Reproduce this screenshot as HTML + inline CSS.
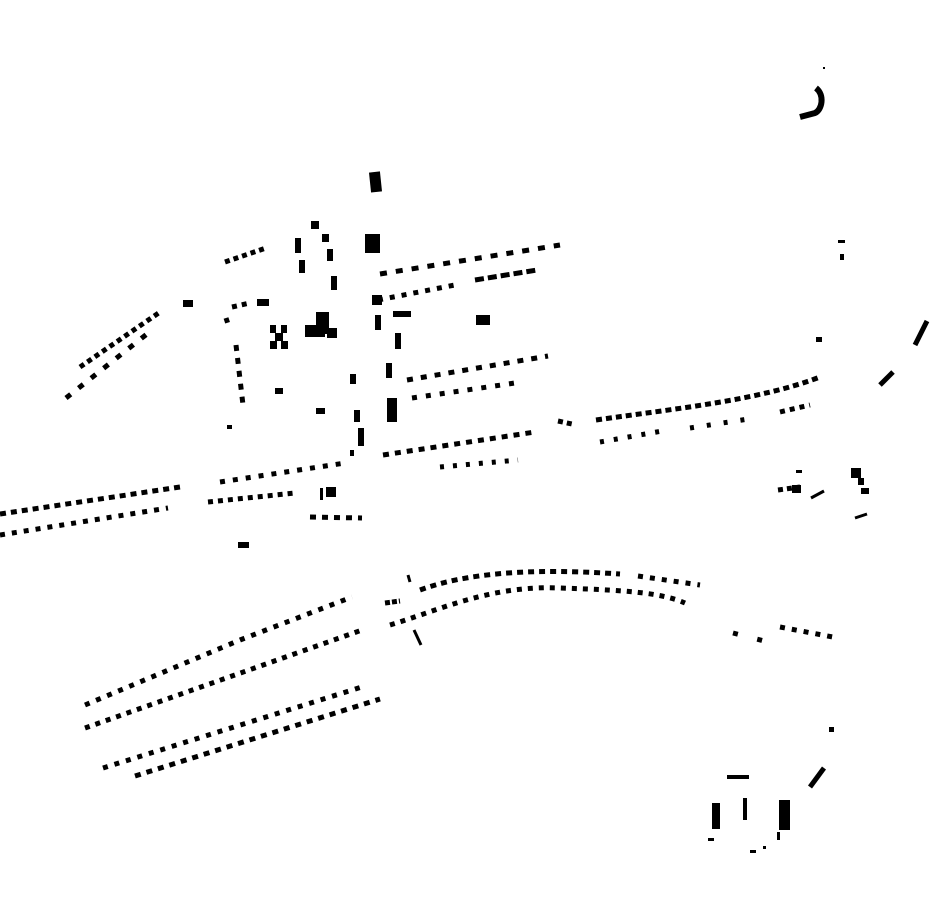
<!DOCTYPE html>
<html><head><meta charset="utf-8"><style>html,body{margin:0;padding:0;background:#fff;width:930px;height:924px;overflow:hidden}</style></head>
<body>
<svg width="930" height="924" viewBox="0 0 930 924" xmlns="http://www.w3.org/2000/svg">
<g fill="none" stroke="#000" stroke-width="5">
<g stroke-dasharray="5 4">
<path d="M225,262 L266,248"/>
<path d="M380,274 L560,245" stroke-dasharray="7 9"/>
<path d="M378,300 L460,284" stroke-dasharray="5 7"/>
<path d="M475,280 L537,270" stroke-dasharray="9 4"/>
<path d="M407,380 L548,356" stroke-dasharray="6 8"/>
<path d="M412,398 L515,383" stroke-dasharray="5 9"/>
<path d="M383,455 L535,432" stroke-dasharray="6 6"/>
<path d="M558,421 L572,424"/>
<path d="M596,420 C680,408 760,400 820,377" stroke-dasharray="6 4"/>
<path d="M440,467 L518,460" stroke-dasharray="4 9"/>
<path d="M600,442 L668,430" stroke-dasharray="4 10"/>
<path d="M690,428 L755,418" stroke-dasharray="4 13"/>
<path d="M780,412 L810,405" stroke-dasharray="5 5"/>
<path d="M80,367 L160,312" stroke-dasharray="5 4"/>
<path d="M66,398 L152,330" stroke-dasharray="6 10"/>
<path d="M232,307 L250,303" stroke-dasharray="5 5"/>
<path d="M226,318 L228,324" stroke-dasharray="5 5"/>
<path d="M236,345 L243,405" stroke-dasharray="6 7"/>
<path d="M0,514 L180,487" stroke-dasharray="6 5"/>
<path d="M0,535 L168,508" stroke-dasharray="5 7"/>
<path d="M220,482 L345,463" stroke-dasharray="5 8"/>
<path d="M208,502 L295,493" stroke-dasharray="5 5"/>
<path d="M310,517 L362,518" stroke-dasharray="6 6"/>
<path d="M85,705 L240,640 L352,597" stroke-dasharray="5 7"/>
<path d="M85,728 L362,630" stroke-dasharray="5 6"/>
<path d="M103,768 L365,686" stroke-dasharray="5 7"/>
<path d="M135,776 L380,699" stroke-dasharray="6 6"/>
<path d="M420,590 C480,568 560,570 620,574" stroke-dasharray="6 5"/>
<path d="M638,576 L700,585" stroke-dasharray="5 7"/>
<path d="M390,625 C440,610 490,585 560,588 C620,590 660,592 685,603" stroke-dasharray="5 6"/>
<path d="M385,603 L400,601" stroke-dasharray="5 2"/>
<path d="M733,633 L768,642" stroke-dasharray="5 20"/>
<path d="M780,627 L838,638" stroke-dasharray="5 7"/>
<path d="M778,490 L800,487" stroke-dasharray="5 4"/>
</g>
<path d="M414,630 L421,645" stroke-width="3"/>
<path d="M408,575 L410,582" stroke-width="3"/>
<path d="M915,345 L927,321" stroke-width="5"/>
<path d="M880,385 L893,372" stroke-width="5"/>
<path d="M810,787 L824,768" stroke-width="5"/>
<path d="M811,498 L824,491" stroke-width="3"/>
<path d="M855,518 L867,514" stroke-width="3"/>
<path d="M816,88 C825,95 822,110 815,113 L800,117" stroke-width="6"/>
</g>
<g fill="#000">
<rect x="370" y="172" width="11" height="20" transform="rotate(-6 375 182)"/>
<rect x="365" y="234" width="15" height="19"/>
<rect x="311" y="221" width="8" height="8"/>
<rect x="295" y="238" width="6" height="15"/>
<rect x="299" y="260" width="6" height="13"/>
<rect x="322" y="234" width="7" height="8"/>
<rect x="327" y="249" width="6" height="12"/>
<rect x="331" y="276" width="6" height="14"/>
<rect x="316" y="312" width="13" height="22"/>
<rect x="305" y="325" width="20" height="12"/>
<rect x="327" y="328" width="10" height="10"/>
<rect x="270" y="325" width="6" height="8"/><rect x="281" y="325" width="6" height="8"/>
<rect x="275" y="333" width="8" height="8"/>
<rect x="270" y="341" width="7" height="8"/><rect x="281" y="341" width="7" height="8"/>
<rect x="257" y="299" width="12" height="7"/>
<rect x="183" y="300" width="10" height="7"/>
<rect x="372" y="295" width="10" height="10"/>
<rect x="393" y="311" width="18" height="6"/>
<rect x="476" y="315" width="14" height="10"/>
<rect x="375" y="315" width="6" height="15"/>
<rect x="395" y="333" width="6" height="16"/>
<rect x="386" y="363" width="6" height="15"/>
<rect x="387" y="398" width="10" height="24"/>
<rect x="350" y="374" width="6" height="10"/>
<rect x="354" y="410" width="6" height="12"/>
<rect x="358" y="428" width="6" height="18"/>
<rect x="350" y="450" width="4" height="6"/>
<rect x="275" y="388" width="8" height="6"/>
<rect x="316" y="408" width="9" height="6"/>
<rect x="227" y="425" width="5" height="4"/>
<rect x="238" y="542" width="11" height="6"/>
<rect x="326" y="487" width="10" height="10"/>
<rect x="320" y="488" width="3" height="12"/>
<rect x="838" y="240" width="7" height="3"/><rect x="840" y="254" width="4" height="6"/>
<rect x="816" y="337" width="6" height="5"/>
<rect x="796" y="470" width="6" height="3"/>
<rect x="792" y="485" width="9" height="8"/>
<rect x="851" y="468" width="10" height="10"/>
<rect x="858" y="478" width="6" height="7"/><rect x="861" y="488" width="8" height="6"/>
<rect x="829" y="727" width="5" height="5"/>
<rect x="727" y="775" width="22" height="4"/>
<rect x="712" y="803" width="8" height="26"/>
<rect x="743" y="798" width="4" height="22"/>
<rect x="779" y="800" width="11" height="30"/>
<rect x="777" y="832" width="3" height="8"/>
<rect x="708" y="838" width="6" height="3"/>
<rect x="750" y="850" width="6" height="3"/>
<rect x="763" y="846" width="3" height="3"/>
<rect x="823" y="67" width="2" height="2"/>
</g>
</svg>
</body></html>
